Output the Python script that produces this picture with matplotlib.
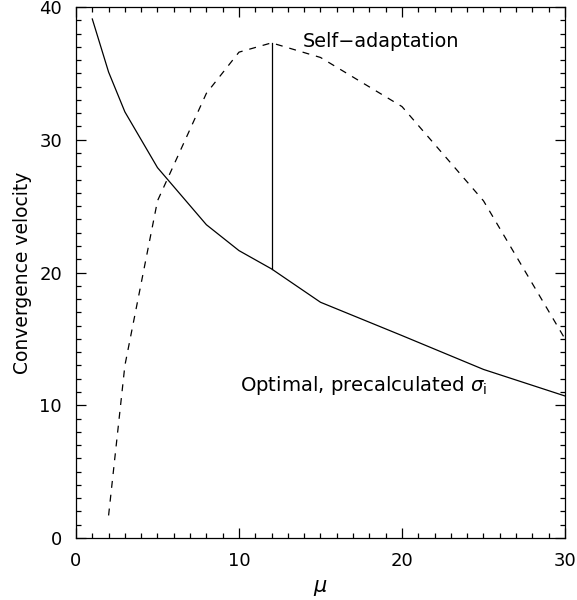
import matplotlib
matplotlib.use("Agg")
import matplotlib.pyplot as plt
from matplotlib.ticker import MultipleLocator

# Optimal, precalculated sigma_i (solid line)
mu_opt = [1, 2, 3, 5, 8, 10, 12, 15, 20, 25, 30]
v_opt = [39.1, 35.1, 32.1, 27.9, 23.6, 21.65, 20.27, 17.76, 15.25, 12.7, 10.7]

# Self-adaptation (dashed line)
mu_sa = [2, 3, 5, 8, 10, 12, 15, 20, 25, 30]
v_sa = [1.7, 13.0, 25.4, 33.5, 36.6, 37.3, 36.2, 32.5, 25.4, 15.0]

# vertical marker between the two curves at mu = 12
mu_mark = 12

plt.rcParams['lines.scale_dashes'] = False
fig = plt.figure(figsize=(5.77, 6.00), dpi=100)
ax = fig.add_axes([0.1317, 0.1033, 0.8475, 0.885])

ax.plot(mu_opt, v_opt, color='black', lw=0.9)
ax.plot(mu_sa, v_sa, color='black', lw=0.9, linestyle=(0, (5, 5)))
ax.plot([mu_mark, mu_mark],
        [v_opt[mu_opt.index(mu_mark)], v_sa[mu_sa.index(mu_mark)]],
        color='black', lw=0.9)

ax.text(13.9, 37.0, 'Self\u2212adaptation', fontsize=13.9)
ax.text(10.05, 11.05, r'Optimal, precalculated $\sigma_{\rm i}$', fontsize=14.1)

ax.set_xlim(0, 30)
ax.set_ylim(0, 40)
ax.xaxis.set_major_locator(MultipleLocator(10))
ax.xaxis.set_minor_locator(MultipleLocator(1))
ax.yaxis.set_major_locator(MultipleLocator(10))
ax.yaxis.set_minor_locator(MultipleLocator(1))
ax.tick_params(which='both', direction='in', top=True, right=True,
               labelsize=13, width=0.9)
ax.tick_params(which='major', length=7.5, pad=10)
ax.tick_params(which='minor', length=3.8)
for s in ax.spines.values():
    s.set_linewidth(0.9)

ax.set_xlabel(r'$\mu$', fontsize=15, labelpad=6)
ax.set_ylabel('Convergence velocity', fontsize=13.5)
ax.yaxis.set_label_coords(-0.09, 0.5)

fig.savefig('out.png', dpi=100)
